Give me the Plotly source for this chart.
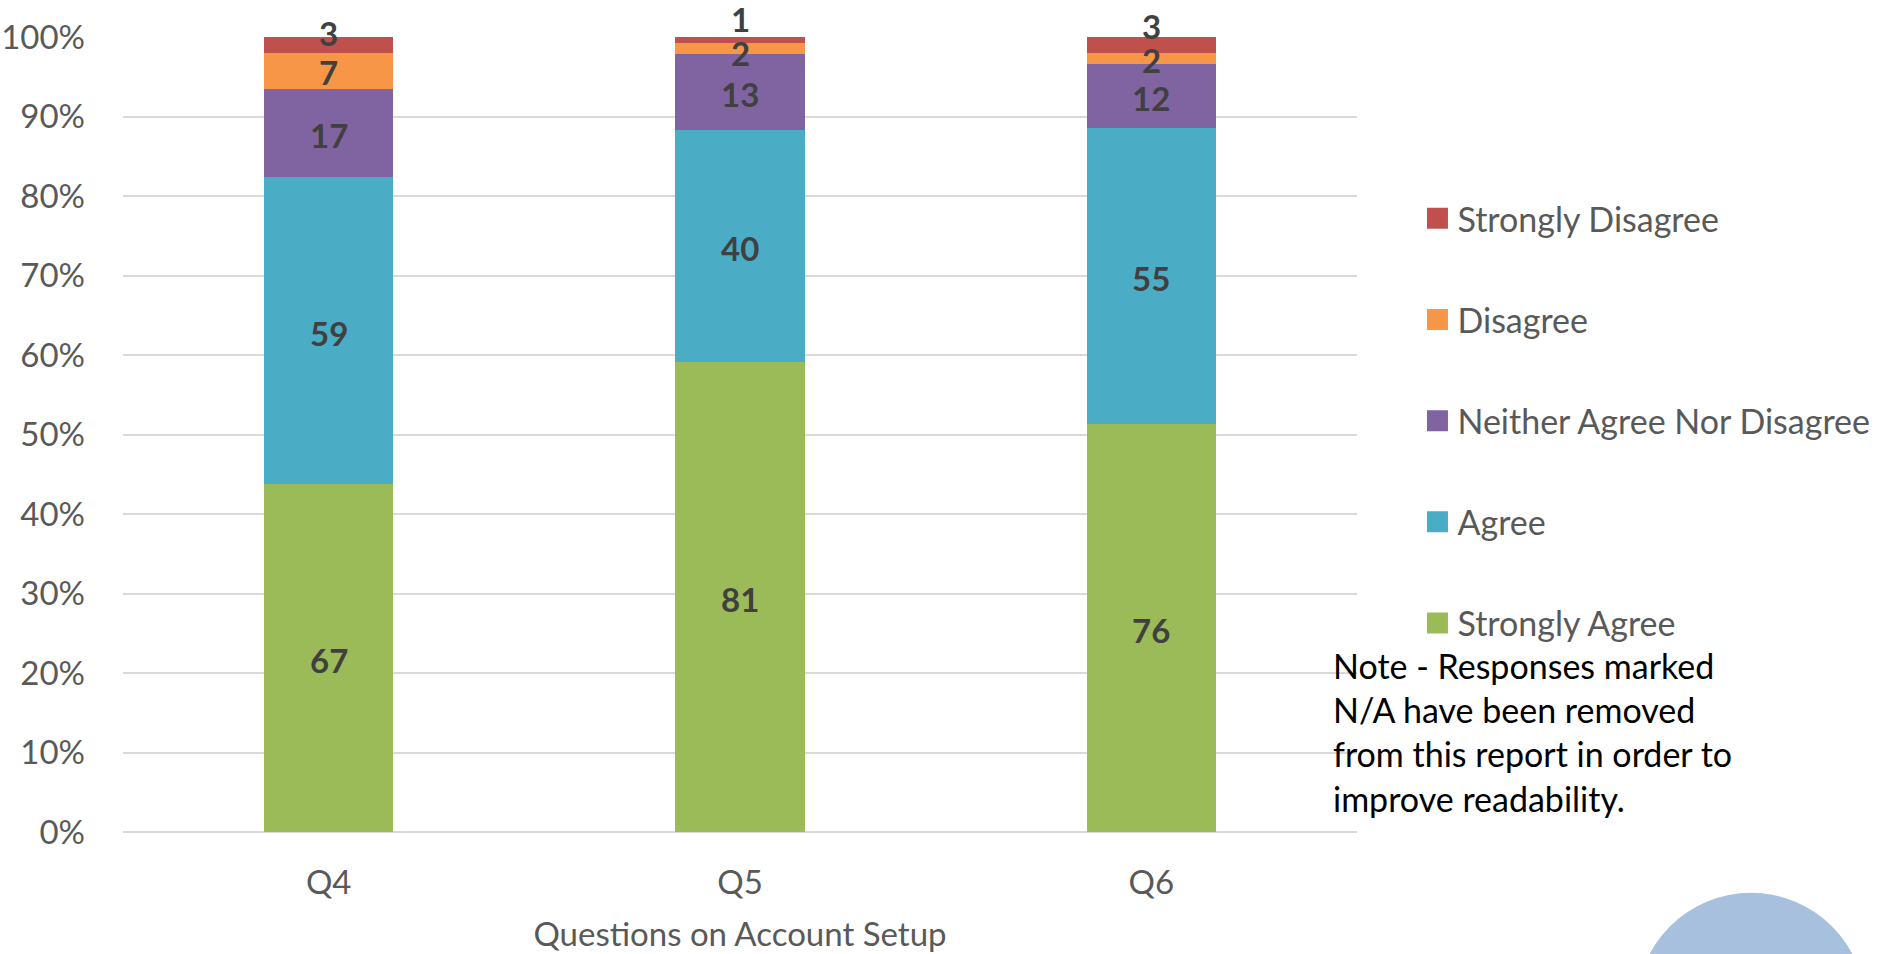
import numpy as np
import plotly.graph_objects as go

# Survey responses (counts) per question
questions = ["Q4", "Q5", "Q6"]
strongly_agree = [67, 81, 76]
agree = [59, 40, 55]
neither = [17, 13, 12]
disagree = [7, 2, 2]
strongly_disagree = [3, 1, 3]

series_names = ["Strongly Agree", "Agree", "Neither Agree Nor Disagree",
                "Disagree", "Strongly Disagree"]
series_values = [strongly_agree, agree, neither, disagree, strongly_disagree]
colors = ["#9bbb59", "#4bacc6", "#8064a2", "#f79646", "#c0504d"]

# vertical nudges (px) so the thin top segments' labels don't collide
label_nudge = [[-2, -2, -2], [-2, -2, -2], [-2, -2, -2], [-1, -4, -2], [12, 21, 19]]

FONT = "Lato"
GREY = "#595959"
SIZE = 33

fig = go.Figure()
n = len(series_names)
for i, (name, vals, col) in enumerate(zip(series_names, series_values, colors)):
    fig.add_trace(go.Bar(
        x=questions, y=vals, name=name, marker=dict(color=col, line=dict(width=0)),
        showlegend=False, hoverinfo="x+y+name",
    ))
    # legend proxy with a larger square swatch; top of stack listed first
    fig.add_trace(go.Scatter(
        x=[None], y=[None], mode="markers", name=name, legendgroup=name,
        legendrank=n - i,
        marker=dict(symbol="square", size=16, color=col, line=dict(color=col, width=5)),
        showlegend=True,
    ))

# percentage midpoints of each stacked segment for the count labels
counts = np.array(series_values, dtype=float)
totals = counts.sum(axis=0)
pct = counts / totals * 100
tops = np.cumsum(pct, axis=0)
mids = tops - pct / 2

annotations = []
for i in range(n):
    for j, q in enumerate(questions):
        annotations.append(dict(
            x=q, y=mids[i, j], xref="x", yref="y", text=f"<b>{series_values[i][j]}</b>",
            showarrow=False, yshift=label_nudge[i][j],
            font=dict(family=FONT, size=SIZE, color="#404040"),
        ))

annotations.append(dict(
    x=0.979, y=0.0, xref="paper", yref="paper", xanchor="left", yanchor="top",
    yshift=189, align="left", showarrow=False,
    text="Note - Responses marked<br>N/A have been removed<br>from this report in order to<br>improve readability.",
    font=dict(family=FONT, size=34, color="#000000"),
))

fig.update_layout(
    width=1883, height=954,
    margin=dict(l=123, r=526, t=37, b=122, autoexpand=False),
    barmode="stack", barnorm="percent", bargap=0.686,
    plot_bgcolor="white", paper_bgcolor="white",
    font=dict(family=FONT, size=SIZE, color=GREY),
    showlegend=True,
    legend=dict(
        x=1.049, y=0.808, xanchor="left", yanchor="top",
        traceorder="grouped", tracegroupgap=54,
        font=dict(family=FONT, size=34, color=GREY),
        bgcolor="rgba(0,0,0,0)",
    ),
    annotations=annotations,
    shapes=[dict(
        type="circle", xref="paper", yref="paper",
        x0=1.2266, x1=1.412, y0=-0.364, y1=-0.0765,
        fillcolor="#a7c0de", line=dict(width=0), layer="above",
    )],
)

fig.update_xaxes(
    showgrid=False, showline=False, ticks="", ticklabelstandoff=28,
    tickfont=dict(family=FONT, size=SIZE, color=GREY),
    title=dict(text="Questions on Account Setup", standoff=22,
               font=dict(family=FONT, size=SIZE, color=GREY)),
)
fig.update_yaxes(
    range=[0, 100], dtick=10, ticksuffix="%", ticks="",
    showgrid=True, gridcolor="#d9d9d9", gridwidth=2,
    zeroline=True, zerolinecolor="#d9d9d9", zerolinewidth=2,
    ticklabelstandoff=37,
    tickfont=dict(family=FONT, size=SIZE, color=GREY),
)

fig.write_html("out.html")
